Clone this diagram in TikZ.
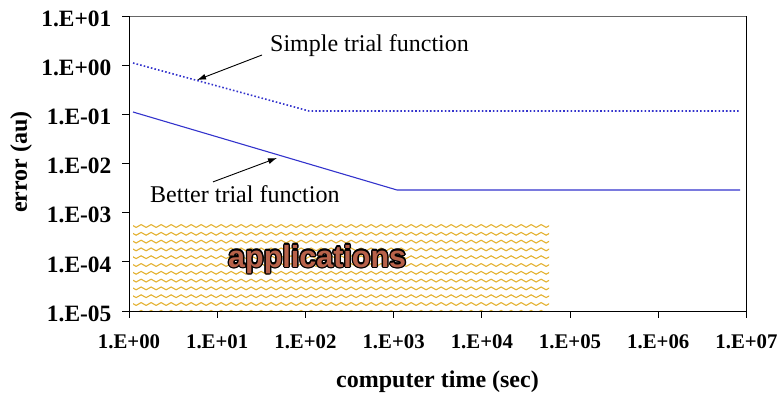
\documentclass[tikz,border=0pt]{standalone}
\usepackage{fontspec}
\setmainfont{Liberation Serif}
\newfontfamily\appfont{Liberation Sans}
\usetikzlibrary{arrows.meta,decorations.pathmorphing}
\definecolor{plotblue}{RGB}{51,51,204}
\definecolor{pattgold}{RGB}{228,178,50}
\definecolor{appbrown}{RGB}{184,98,74}
\begin{document}
\begin{tikzpicture}[x=1pt,y=-1pt,
  yticklab/.style={font=\fontsize{23.4}{23.4}\selectfont\bfseries, inner sep=0pt},
  xticklab/.style={font=\fontsize{20.8}{20.8}\selectfont\bfseries, inner sep=0pt},
  axtitle/.style={font=\fontsize{24}{24}\selectfont\bfseries, inner sep=0pt},
  annot/.style={font=\fontsize{24}{24}\selectfont, inner sep=0pt},
  pointer/.style={-{Latex[length=9pt,width=6pt]}, line width=0.9pt, black},
  patt/.style={pattgold, line width=1.1pt, decorate,
    decoration={snake, segment length=10pt, amplitude=1.4pt}},
  axisline/.style={black, line width=1pt},
  tickmark/.style={black, line width=0.9pt}]
\useasboundingbox (0,0) rectangle (779,393);
% corners of plot area
\coordinate (BL) at (129,311);
\coordinate (BR) at (746.5,311);
\coordinate (TL) at (129,16.5);
\coordinate (TR) at (746.5,16.5);
% pattern box
\begin{scope}
  \clip (133,223) rectangle (549,310.5);
  \foreach \r in {0,...,11}
    \draw[patt] (128,{226+7.8*\r}) -- (556,{226+7.8*\r});
\end{scope}
% frame
\draw[black!60, line width=1pt] (TL) -- (TR);
\draw[axisline] (TL) -- (BL) -- (BR) -- (TR);
% y ticks and labels
\foreach \lab [count=\i from 0] in {1.E+01,1.E+00,1.E-01,1.E-02,1.E-03,1.E-04,1.E-05} {
  \draw[tickmark] (122,{16.5+49.08*\i}) -- (129,{16.5+49.08*\i});
  \node[yticklab, anchor=east] (ylab\i) at (111.5,{19+49.08*\i}) {\lab};
}
% x ticks and labels
\foreach \lab [count=\i from 0] in {1.E+00,1.E+01,1.E+02,1.E+03,1.E+04,1.E+05,1.E+06,1.E+07} {
  \draw[tickmark] ({129+88.21*\i},311) -- ({129+88.21*\i},318);
  \node[xticklab, anchor=base] (xlab\i) at ({129+88.21*\i},348) {\lab};
}
% axis titles
\node[axtitle, anchor=base] (xtitle) at (437.5,387) {computer time (sec)};
\node[axtitle, rotate=90, anchor=base] (ytitle) at (27,162) {error (au)};
% data curves
\coordinate (s0) at (133,63);
\coordinate (s1) at (309,111);
\coordinate (s2) at (740,111);
\draw[plotblue, line width=1.6pt, dash pattern=on 1.6pt off 2.1pt] (s0) -- (s1) -- (s2);
\coordinate (b0) at (133,112);
\coordinate (b1) at (397,190);
\coordinate (b2) at (740,190);
\draw[plotblue, line width=1.1pt] (b0) -- (b1) -- (b2);
% annotations
\node[annot, anchor=base west] (simple) at (270,52) {Simple trial function};
\coordinate (sa) at (197,80);
\draw[pointer] ([shift={(-8,3)}]simple.base west) -- (sa);
\node[annot, anchor=base west] (better) at (150,202) {Better trial function};
\coordinate (ba) at (277,158);
\draw[pointer] ([shift={(63,-3)}]better.north west) -- (ba);
% applications word art
\foreach \a in {0,30,...,330}
  \node[inner sep=0pt, anchor=base west, text=black, font=\appfont\bfseries\fontsize{30.5}{30.5}\selectfont]
    at ([shift={(\a:1.3)}]228,267) {applications};
\node[inner sep=0pt, anchor=base west, text=appbrown, font=\appfont\bfseries\fontsize{30.5}{30.5}\selectfont]
  (app) at (228,267) {applications};
\end{tikzpicture}
\end{document}
